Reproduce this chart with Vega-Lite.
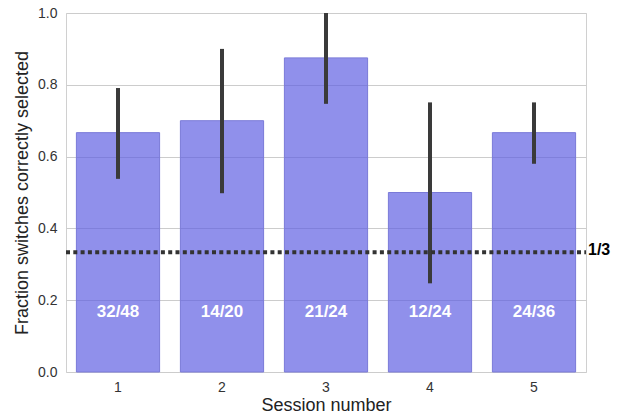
{
  "$schema": "https://vega.github.io/schema/vega-lite/v6.json",
  "autosize": "none",
  "width": 520,
  "height": 359,
  "padding": {"left": 66, "top": 13, "right": 39, "bottom": 44},
  "background": "white",
  "config": {
    "view": {"stroke": "#d0d0d0", "strokeWidth": 1},
    "font": "Liberation Sans",
    "axis": {
      "labelFont": "Liberation Sans",
      "titleFont": "Liberation Sans",
      "labelColor": "#333333",
      "titleColor": "#222222",
      "labelFontSize": 14,
      "titleFontSize": 18,
      "titleFontWeight": "normal",
      "domain": false,
      "ticks": false,
      "gridColor": "#cccccc",
      "gridWidth": 1
    }
  },
  "data": {
    "values": [
      {"session": "1", "frac": 0.6667, "lo": 0.538, "hi": 0.791, "label": "32/48"},
      {"session": "2", "frac": 0.7, "lo": 0.498, "hi": 0.9, "label": "14/20"},
      {"session": "3", "frac": 0.875, "lo": 0.747, "hi": 1.0, "label": "21/24"},
      {"session": "4", "frac": 0.5, "lo": 0.247, "hi": 0.751, "label": "12/24"},
      {"session": "5", "frac": 0.6667, "lo": 0.58, "hi": 0.751, "label": "24/36"}
    ]
  },
  "encoding": {
    "x": {
      "field": "session",
      "type": "ordinal",
      "title": "Session number",
      "scale": {"paddingInner": 0.2, "paddingOuter": 0.1},
      "axis": {"labelAngle": 0, "labelPadding": 8, "titlePadding": 2, "grid": false}
    }
  },
  "layer": [
    {
      "mark": {"type": "bar", "fill": "#5b5ce2", "fillOpacity": 0.68, "stroke": "#7a7ad8", "strokeWidth": 1},
      "encoding": {
        "y": {
          "field": "frac",
          "type": "quantitative",
          "title": "Fraction switches correctly selected",
          "scale": {"domain": [0, 1], "nice": false},
          "axis": {"values": [0, 0.2, 0.4, 0.6, 0.8, 1.0], "format": ".1f", "labelPadding": 9, "titlePadding": 6, "grid": true, "gridColor": "#cccccc"}
        }
      }
    },
    {
      "mark": {"type": "rule", "color": "#3a3a3a", "strokeWidth": 4},
      "encoding": {
        "y": {"field": "lo", "type": "quantitative"},
        "y2": {"field": "hi"}
      }
    },
    {
      "mark": {"type": "text", "color": "white", "fontWeight": "bold", "fontSize": 17, "font": "Liberation Sans", "baseline": "middle"},
      "encoding": {
        "y": {"datum": 0.167, "type": "quantitative"},
        "text": {"field": "label"}
      }
    },
    {
      "data": {"values": [{"v": 0.3333, "t": "1/3"}]},
      "layer": [
        {
          "mark": {"type": "rule", "color": "#333333", "strokeWidth": 4, "strokeDash": [4, 3.3]},
          "encoding": {"y": {"field": "v", "type": "quantitative"}, "x": {"value": 0}, "x2": {"value": 520}}
        },
        {
          "mark": {"type": "text", "color": "black", "fontWeight": "bold", "fontSize": 16, "align": "left", "baseline": "middle", "dx": 2, "dy": -2},
          "encoding": {"y": {"field": "v", "type": "quantitative"}, "x": {"value": 520}, "text": {"field": "t"}}
        }
      ]
    }
  ]
}
